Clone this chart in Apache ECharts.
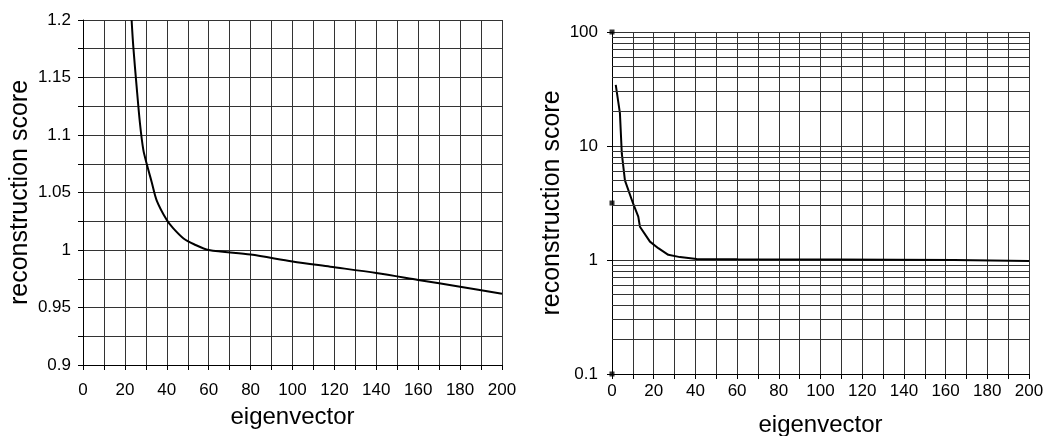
<!DOCTYPE html>
<html>
<head>
<meta charset="utf-8">
<script src="https://cdn.jsdelivr.net/npm/echarts@6/dist/echarts.min.js"></script>
<style>
html,body{margin:0;padding:0;background:#fff;}
#c{width:1044px;height:436px;}
</style>
</head>
<body>
<div id="c"></div>
<script>
// Left panel: reconstruction score vs eigenvector (linear y)
const leftX = [23.2, 24, 25.6, 27.2, 28.8, 30.4, 32.8, 35.2, 40, 43, 48, 53, 60, 80, 100, 118, 140, 160, 180, 200];
const leftY = [1.2, 1.177, 1.142, 1.110, 1.087, 1.075, 1.059, 1.043, 1.026, 1.019, 1.010, 1.005, 1.0, 0.996, 0.990, 0.9855, 0.980, 0.974, 0.968, 0.962];

// Right panel: reconstruction score vs eigenvector (log y)
const rightX = [1.8, 3.8, 4.7, 6.2, 10.2, 12.6, 13.4, 18.2, 22.2, 27, 32.6, 40.6, 60, 108, 108.5, 164, 164.5, 200];
const rightY = [34.3, 19.4, 8.6, 5.0, 3.1, 2.4, 1.96, 1.45, 1.27, 1.11, 1.06, 1.02, 1.015, 1.01, 1.0, 1.0, 0.98, 0.98];

// small square marks on the right y axis
const axisMarkX = [0, 0, 0];
const axisMarkY = [100, 3.16, 0.1];

// tick labels
const xTickLabels = ['0','20','40','60','80','100','120','140','160','180','200'];
const leftYTickLabels = ['0.9','0.95','1','1.05','1.1','1.15','1.2'];
const rightYTickLabels = ['0.1','1','10','100'];

const FONT = 'Liberation Sans, Arial, Helvetica, sans-serif';
const GRID_COLOR = '#333';

// minor log gridlines (2..9 within each decade)
const minorLog = [];
[0.1, 1, 10].forEach(d => { for (let k = 2; k <= 9; k++) minorLog.push(+(d * k).toFixed(4)); });

function xFmt(v) {
  const s = String(Math.round(v));
  return xTickLabels.indexOf(s) >= 0 ? s : '';
}
function leftYFmt(v) {
  const s = String(+v.toFixed(3));
  return leftYTickLabels.indexOf(s) >= 0 ? s : '';
}
function rightYFmt(v) {
  const s = String(+v.toPrecision(3));
  return rightYTickLabels.indexOf(s) >= 0 ? s : '';
}

const chart = echarts.init(document.getElementById('c'), null, {renderer: 'canvas'});

const axisCommonX = {
  type: 'value', min: 0, max: 200, interval: 10,
  name: 'eigenvector', nameLocation: 'middle',
  nameTextStyle: {fontFamily: FONT, fontSize: 24, color: '#000'},
  axisLine: {onZero: false, lineStyle: {color: '#000', width: 1}},
  axisTick: {show: true, length: 5, lineStyle: {color: '#000'}},
  axisLabel: {formatter: xFmt, fontFamily: FONT, fontSize: 17, color: '#000', showMinLabel: true, showMaxLabel: true},
  splitLine: {show: true, lineStyle: {color: GRID_COLOR, width: 1}}
};

const option = {
  backgroundColor: '#fff',
  animation: false,
  grid: [
    {left: 83, right: 542, top: 20, bottom: 71, containLabel: false, outerBoundsMode: 'none'},
    {left: 612, right: 15, top: 32, bottom: 62, containLabel: false, outerBoundsMode: 'none'}
  ],
  xAxis: [
    Object.assign({}, axisCommonX, {gridIndex: 0, nameGap: 40,
      axisLabel: Object.assign({}, axisCommonX.axisLabel, {margin: 17})}),
    Object.assign({}, axisCommonX, {gridIndex: 1, nameGap: 39,
      axisLabel: Object.assign({}, axisCommonX.axisLabel, {margin: 9})})
  ],
  yAxis: [
    {
      gridIndex: 0, type: 'value', min: 0.9, max: 1.2, interval: 0.025,
      name: 'reconstruction score', nameLocation: 'middle', nameGap: 50,
      nameTextStyle: {fontFamily: FONT, fontSize: 25, color: '#000'},
      axisLine: {show: true, onZero: false, lineStyle: {color: '#000'}},
      axisTick: {show: true, length: 5, lineStyle: {color: '#000'}},
      axisLabel: {formatter: leftYFmt, fontFamily: FONT, fontSize: 17, color: '#000', margin: 12},
      splitLine: {show: true, lineStyle: {color: GRID_COLOR, width: 1}}
    },
    {
      gridIndex: 1, type: 'log', logBase: 10, min: 0.1, max: 100,
      name: 'reconstruction score', nameLocation: 'middle', nameGap: 47,
      nameTextStyle: {fontFamily: FONT, fontSize: 25, color: '#000'},
      axisLine: {show: true, onZero: false, lineStyle: {color: '#000'}},
      axisTick: {show: true, length: 5, lineStyle: {color: '#000'}},
      axisLabel: {formatter: rightYFmt, fontFamily: FONT, fontSize: 17, color: '#000', margin: 14},
      splitLine: {show: true, lineStyle: {color: GRID_COLOR, width: 1}}
    }
  ],
  series: [
    {
      type: 'line', xAxisIndex: 0, yAxisIndex: 0,
      data: leftX.map((x, i) => [x, leftY[i]]),
      showSymbol: false, symbol: 'none', clip: true, smooth: 0.3,
      lineStyle: {color: '#000', width: 2}
    },
    {
      type: 'line', xAxisIndex: 1, yAxisIndex: 1,
      data: rightX.map((x, i) => [x, rightY[i]]),
      showSymbol: false, symbol: 'none', clip: true,
      lineStyle: {color: '#000', width: 2},
      markLine: {
        silent: true, symbol: 'none', animation: false,
        label: {show: false},
        lineStyle: {color: GRID_COLOR, width: 1, type: 'solid'},
        data: minorLog.map(v => ({yAxis: v}))
      }
    },
    {
      type: 'scatter', xAxisIndex: 1, yAxisIndex: 1,
      data: axisMarkX.map((x, i) => [x, axisMarkY[i]]),
      symbol: 'rect', symbolSize: 5, clip: false,
      itemStyle: {color: '#000'}
    }
  ]
};
chart.setOption(option);
</script>
</body>
</html>
